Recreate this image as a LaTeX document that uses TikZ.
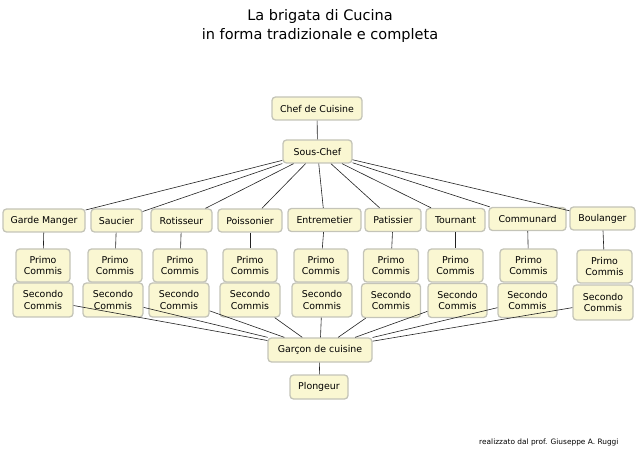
\documentclass[tikz,border=0pt]{standalone}
\usepackage{fontspec}
\setmainfont{DejaVu Sans}
\definecolor{boxfill}{HTML}{FAF7D2}
\definecolor{boxline}{HTML}{C4C4B8}
\definecolor{linkcol}{HTML}{222222}
\begin{document}
\begin{tikzpicture}[x=1pt,y=-1pt,
  box/.style={draw=boxline, fill=boxfill, rounded corners=3.5pt, line width=1.3pt,
    inner sep=0pt, align=center, font=\fontsize{9.4}{11.5}\selectfont,
    minimum height=23pt},
  two/.style={box, minimum height=33pt},
  link/.style={draw=linkcol, line width=0.6pt}]
\useasboundingbox (0,0) rectangle (640,454);
\node[align=center, font=\fontsize{14.5}{19}\selectfont] (title) at (320,26) {La brigata di Cucina\\in forma tradizionale e completa};
\node[anchor=base east, font=\fontsize{7.4}{8}\selectfont] (credit) at (622,444) {realizzato dal prof. Giuseppe A. Ruggi};

\node[box, minimum width=90pt] (chef) at (317,108.5) {Chef de Cuisine};
\node[box, minimum width=69pt] (sous) at (317.5,151.5) {Sous-Chef};

\node[box, minimum width=82pt] (gm) at (44,220.5) {Garde Manger};
\node[box, minimum width=51pt] (sa) at (116.5,220.5) {Saucier};
\node[box, minimum width=61pt] (ro) at (181.5,220.5) {Rotisseur};
\node[box, minimum width=64pt] (po) at (250,220.5) {Poissonier};
\node[box, minimum width=73pt] (en) at (324.5,220) {Entremetier};
\node[box, minimum width=56pt] (pa) at (393,220) {Patissier};
\node[box, minimum width=59pt] (to) at (455.5,220) {Tournant};
\node[box, minimum width=77pt] (co) at (527.5,219) {Communard};
\node[box, minimum width=65pt] (bo) at (602.5,218.5) {Boulanger};

\node[two, minimum width=54pt] (p1) at (43,265.5) {Primo\\Commis};
\node[two, minimum width=54pt] (p2) at (115,265.5) {Primo\\Commis};
\node[two, minimum width=54pt] (p3) at (180,265.5) {Primo\\Commis};
\node[two, minimum width=54pt] (p4) at (250,265.5) {Primo\\Commis};
\node[two, minimum width=54pt] (p5) at (321,265.5) {Primo\\Commis};
\node[two, minimum width=55pt] (p6) at (391,265.5) {Primo\\Commis};
\node[two, minimum width=55pt] (p7) at (455.5,265.5) {Primo\\Commis};
\node[two, minimum width=57pt] (p8) at (528.5,265.5) {Primo\\Commis};
\node[two, minimum width=55pt] (p9) at (604.5,266.5) {Primo\\Commis};

\node[two, minimum width=60pt, minimum height=34pt] (s1) at (43,300) {Secondo\\Commis};
\node[two, minimum width=60pt, minimum height=34pt] (s2) at (113,300) {Secondo\\Commis};
\node[two, minimum width=60pt, minimum height=34pt] (s3) at (179,300) {Secondo\\Commis};
\node[two, minimum width=60pt, minimum height=34pt] (s4) at (250,300) {Secondo\\Commis};
\node[two, minimum width=60pt, minimum height=34pt] (s5) at (322,300) {Secondo\\Commis};
\node[two, minimum width=59pt, minimum height=34pt] (s6) at (391,300.5) {Secondo\\Commis};
\node[two, minimum width=59pt, minimum height=34pt] (s7) at (457.5,300.5) {Secondo\\Commis};
\node[two, minimum width=59pt, minimum height=34pt] (s8) at (527.5,300.5) {Secondo\\Commis};
\node[two, minimum width=60pt, minimum height=35pt] (s9) at (603,302.5) {Secondo\\Commis};

\node[box, minimum width=104pt, minimum height=24pt] (garcon) at (320,350) {Garçon de cuisine};
\node[box, minimum width=58pt, minimum height=24pt] (plong) at (319,387) {Plongeur};

\draw[link] (chef) -- (sous);
\foreach \n in {gm,sa,ro,po,en,pa,to,co,bo} \draw[link] (sous) -- (\n);
\foreach \a/\b in {gm/p1,sa/p2,ro/p3,po/p4,en/p5,pa/p6,to/p7,co/p8,bo/p9} \draw[link] (\a) -- (\b);
\foreach \n in {s1,s2,s3,s4,s5,s6,s7,s8,s9} \draw[link] (\n) -- (garcon);
\draw[link] (garcon) -- (plong);
\end{tikzpicture}
\end{document}
